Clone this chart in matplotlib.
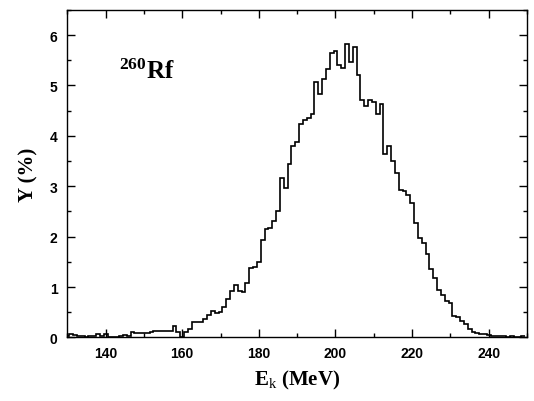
import matplotlib
matplotlib.use("Agg")
import matplotlib.pyplot as plt
from matplotlib.ticker import MultipleLocator
import numpy as np

plt.rcParams["mathtext.fontset"] = "custom"
plt.rcParams["mathtext.bf"] = "Liberation Serif:bold"
plt.rcParams["mathtext.rm"] = "Liberation Serif"
plt.rcParams["mathtext.it"] = "Liberation Serif:italic"

# Bin centres (MeV), 1 MeV wide bins
energy_start = 130
energy_stop = 249
yield_pct = [
    0.02, 0.06, 0.05, 0.02, 0.02, 0.01, 0.02, 0.02, 0.06, 0.03,   # 130-139
    0.07, 0.01, 0.00, 0.00, 0.03, 0.04, 0.03, 0.10, 0.09, 0.09,   # 140-149
    0.09, 0.09, 0.10, 0.12, 0.12, 0.12, 0.12, 0.13, 0.22, 0.10,   # 150-159
    0.00, 0.10, 0.17, 0.30, 0.30, 0.31, 0.37, 0.44, 0.52, 0.49,   # 160-169
    0.50, 0.61, 0.77, 0.92, 1.05, 0.93, 0.91, 1.09, 1.37, 1.40,   # 170-179
    1.50, 1.94, 2.16, 2.18, 2.32, 2.51, 3.16, 2.97, 3.44, 3.80,   # 180-189
    3.88, 4.24, 4.31, 4.35, 4.44, 5.06, 4.84, 5.12, 5.32, 5.64,   # 190-199
    5.69, 5.41, 5.35, 5.83, 5.46, 5.76, 5.21, 4.72, 4.60, 4.71,   # 200-209
    4.67, 4.44, 4.63, 3.65, 3.80, 3.50, 3.26, 2.92, 2.91, 2.82,   # 210-219
    2.67, 2.28, 1.98, 1.87, 1.65, 1.36, 1.19, 0.94, 0.85, 0.73,   # 220-229
    0.69, 0.43, 0.40, 0.33, 0.26, 0.16, 0.10, 0.09, 0.07, 0.06,   # 230-239
    0.05, 0.03, 0.02, 0.02, 0.03, 0.01, 0.02, 0.01, 0.01, 0.02,   # 240-249
]
x_ticks = [140, 160, 180, 200, 220, 240]
y_ticks = [0, 1, 2, 3, 4, 5, 6]

centres = np.arange(energy_start, energy_stop + 1)
edges = np.append(centres - 0.5, centres[-1] + 0.5)

fig = plt.figure(figsize=(5.34, 4.02), dpi=100)
ax = fig.add_axes([0.126, 0.158, 0.861, 0.815])

ax.stairs(yield_pct, edges, color="black", lw=1.2, baseline=None)

ax.set_xlim(130, 250)
ax.set_ylim(0, 6.5)
ax.set_xticks(x_ticks)
ax.set_yticks(y_ticks)
ax.xaxis.set_minor_locator(MultipleLocator(10))
ax.yaxis.set_minor_locator(MultipleLocator(0.5))
ax.tick_params(which="both", direction="in", top=True, right=True, width=1.0)
ax.tick_params(which="major", length=6)
ax.tick_params(which="minor", length=3)
for lab in ax.get_xticklabels() + ax.get_yticklabels():
    lab.set_fontfamily("Liberation Sans")
    lab.set_fontweight("bold")
    lab.set_fontsize(10)
ax.tick_params(axis="x", pad=6)
ax.tick_params(axis="y", pad=7)
for sp in ax.spines.values():
    sp.set_linewidth(1.0)

ax.set_xlabel(r"E$_{\mathrm{k}}$ (MeV)", family="Liberation Serif",
              fontweight="bold", fontsize=15, labelpad=6)
ax.set_ylabel("Y (%)", family="Liberation Serif", fontweight="bold",
              fontsize=15, labelpad=8)

ax.text(0.113, 0.792, r"$^{\mathbf{260}}$Rf", transform=ax.transAxes,
        family="Liberation Serif", fontweight="bold", fontsize=18,
        ha="left", va="baseline")

fig.savefig("out.png", dpi=100)
